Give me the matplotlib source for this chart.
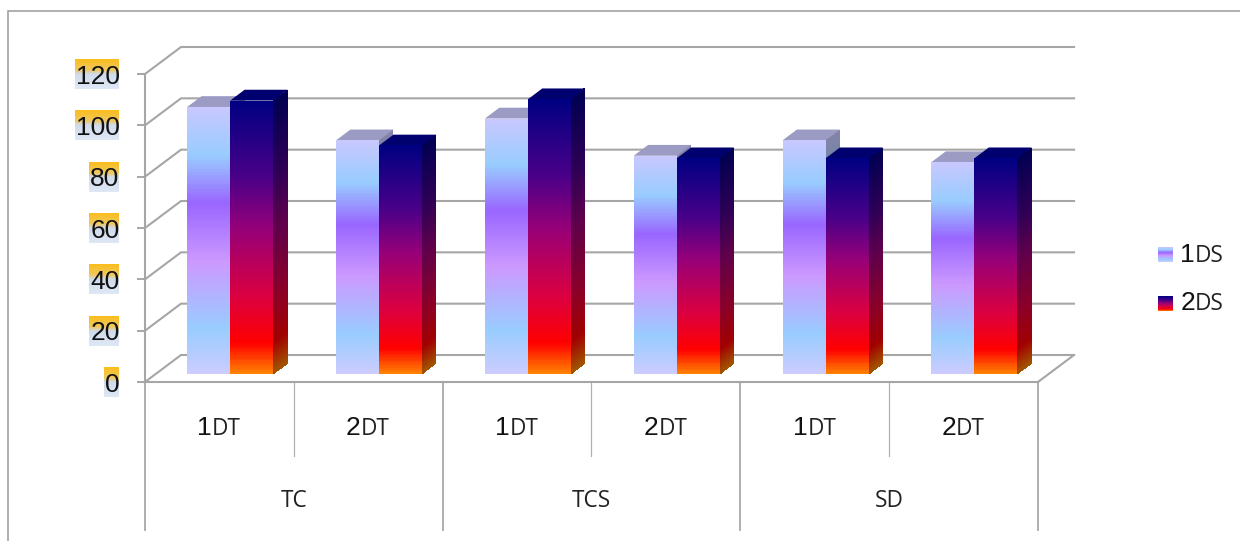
import numpy as np
import matplotlib
matplotlib.use("Agg")
import matplotlib.pyplot as plt
from matplotlib.colors import LinearSegmentedColormap
from matplotlib.transforms import blended_transform_factory

# Chart data
groups = ["TC", "TCS", "SD"]
durations = ["1DT", "2DT", "1DT", "2DT", "1DT", "2DT"]
series_names = ["1DS", "2DS"]
values_1ds = [104, 91, 99.5, 85, 91, 82.5]
values_2ds = [106.5, 89, 107, 84, 84, 84]
y_ticks = [0, 20, 40, 60, 80, 100, 120]

# Figure layout, in pixels
W, H = 1240, 541
PLOT_L, PLOT_R, PLOT_B, PLOT_T = 145, 1038, 382, 74
GRID = "#a6a6a6"
NUM_FONT = "Liberation Sans"
CAT_FONT = "Open Sans"
NUM_PT = 19.0
CAT_PT = 16.3

# Oblique projection of the 3D box
DEPTH_X = 36 / ((PLOT_R - PLOT_L) / 6)
DEPTH_Y = 27 / ((PLOT_B - PLOT_T) / 120)
BAR_FRONT, BAR_BACK = 0.30, 0.70
BAR_W = 43 / ((PLOT_R - PLOT_L) / 6)

light_stops = [(0.00, "#c8c8ff"), (0.18, "#99ccff"), (0.36, "#9966ff"),
               (0.58, "#cc99ff"), (0.83, "#99ccff"), (1.00, "#ccccff")]
dark_stops = [(0.00, "#000082"), (0.28, "#4a0088"), (0.47, "#960078"),
              (0.72, "#dc0040"), (0.89, "#ff0000"), (1.00, "#ff8200")]


def make_cmap(stops, factor=1.0):
    colors = [(p, tuple(factor * c for c in matplotlib.colors.to_rgb(col)))
              for p, col in stops]
    return LinearSegmentedColormap.from_list("ramp", colors, N=256)


light_front = make_cmap(light_stops)
light_side = make_cmap(light_stops, 0.66)
dark_front = make_cmap(dark_stops)
dark_side = make_cmap(dark_stops, 0.63)

fig = plt.figure(figsize=(W / 100, H / 100), dpi=100, facecolor="white")

# Pixel-space layer for the frame, label highlights and legend
page = fig.add_axes([0, 0, 1, 1], zorder=0)
page.set_xlim(0, W)
page.set_ylim(H, 0)
page.axis("off")

ax = fig.add_axes([PLOT_L / W, (H - PLOT_B) / H,
                   (PLOT_R - PLOT_L) / W, (PLOT_B - PLOT_T) / H], zorder=1)
ax.patch.set_visible(False)
ax.set_xlim(-0.5, 5.5)
ax.set_ylim(0, 120)

# Outer frame
page.plot([8, 8, W], [H, 10.5, 10.5], color="#9a9a9a", lw=1.1, solid_joinstyle="miter")


def gradient_rect(x0, x1, y0, y1, cmap):
    grad = np.linspace(0, 1, 64)[:, None]
    page.imshow(grad, extent=(x0, x1, y1, y0), cmap=cmap, aspect="auto",
                zorder=1, interpolation="bilinear")


# Highlight band behind the value labels
highlight = LinearSegmentedColormap.from_list(
    "band", [(0, "#fbbd1c"), (0.36, "#efc860"), (0.50, "#cfdaec"), (1, "#dfe8f5")])
band_width = {1: 15, 2: 30, 3: 44}
for v in y_ticks:
    yc = PLOT_B - v * (PLOT_B - PLOT_T) / 120
    gradient_rect(119 - band_width[len(str(v))], 119, yc - 15, yc + 15, highlight)
page.set_xlim(0, W)
page.set_ylim(H, 0)

# Value axis
ax.set_yticks(y_ticks)
ax.tick_params(axis="y", length=5.8, width=1.4, color=GRID, pad=12.5)
for lab in ax.get_yticklabels():
    lab.set_fontfamily(NUM_FONT)
    lab.set_fontsize(NUM_PT)
    lab.set_color("#111111")
ax.set_xticks([])
for side in ("top", "right"):
    ax.spines[side].set_visible(False)
for side in ("left", "bottom"):
    ax.spines[side].set_color(GRID)
    ax.spines[side].set_linewidth(1.5)

# Walls: gridlines along the side and back, then the floor edge
xl, xr = -0.5, 5.5
for v in y_ticks:
    ax.plot([xl, xl + DEPTH_X, xr + DEPTH_X], [v, v + DEPTH_Y, v + DEPTH_Y],
            color=GRID, lw=1.5, clip_on=False, zorder=1, solid_joinstyle="miter")
ax.plot([xr, xr + DEPTH_X], [0, DEPTH_Y], color=GRID, lw=1.5, clip_on=False, zorder=1)


def draw_bar(x_left, value, front_cmap, side_cmap, top_color, zorder):
    """Draw a box: side face, top face and gradient front face."""
    rows = 160
    t = np.linspace(1, 0, rows + 1)
    x0 = x_left + BAR_FRONT * DEPTH_X
    x1 = x0 + BAR_W
    dx = (BAR_BACK - BAR_FRONT) * DEPTH_X
    dy = (BAR_BACK - BAR_FRONT) * DEPTH_Y
    base = BAR_FRONT * DEPTH_Y
    y_front = base + value * t
    shade = ((1 - t[:-1]) + (1 - t[1:]))[:, None] / 2

    sx = np.column_stack([np.full(rows + 1, x1), np.full(rows + 1, x1 + dx)])
    sy = np.column_stack([y_front, y_front + dy])
    m = ax.pcolormesh(sx, sy, shade, cmap=side_cmap, vmin=0, vmax=1,
                      shading="flat", zorder=zorder, antialiased=False)
    m.set_clip_on(False)

    top = base + value
    ax.fill([x0, x1, x1 + dx, x0 + dx], [top, top, top + dy, top + dy],
            color=top_color, lw=0, clip_on=False, zorder=zorder)

    fx = np.column_stack([np.full(rows + 1, x0), np.full(rows + 1, x1)])
    fy = np.column_stack([y_front, y_front])
    m = ax.pcolormesh(fx, fy, shade, cmap=front_cmap, vmin=0, vmax=1,
                      shading="flat", zorder=zorder + 0.5, antialiased=False)
    m.set_clip_on(False)


for i in range(len(durations)):
    draw_bar(i - BAR_W, values_1ds[i], light_front, light_side, "#9b9bc4", 3 + i)
    draw_bar(i, values_2ds[i], dark_front, dark_side, "#00006e", 3.6 + i)

# Two-level category axis below the floor
to_page_y = blended_transform_factory(ax.transData, page.transData)
for k, b in enumerate(np.arange(-0.5, 6, 1)):
    is_group = k % 2 == 0
    ax.plot([b, b], [PLOT_B, 530 if is_group else 456],
            transform=to_page_y, clip_on=False,
            color="#a8a8a8" if is_group else "#b0b0b0",
            lw=1.3 if is_group else 0.9, zorder=1)


def two_part_label(xy, transform, text, offset_px):
    """Write a digit in the numeric face followed by letters in the category face."""
    ax.annotate(text[0], xy=xy, xycoords=transform,
                xytext=(offset_px * 0.72, 0), textcoords="offset points",
                ha="right", va="baseline", family=NUM_FONT, fontsize=NUM_PT,
                color="#111111", annotation_clip=False)
    ax.annotate(text[1:], xy=xy, xycoords=transform,
                xytext=(offset_px * 0.72, 0), textcoords="offset points",
                ha="left", va="baseline", family=CAT_FONT, fontsize=CAT_PT,
                color="#222222", annotation_clip=False)


for i, label in enumerate(durations):
    two_part_label((i, 435), to_page_y, label, -7.4)

for j, name in enumerate(groups):
    ax.text(2 * j + 0.5, 507, name, transform=to_page_y, ha="center", va="baseline",
            family=CAT_FONT, fontsize=CAT_PT, color="#222222")

# Legend
gradient_rect(1158, 1173, 247.5, 262, light_front)
gradient_rect(1158, 1173, 296, 311, dark_front)
page.set_xlim(0, W)
page.set_ylim(H, 0)
for name, base in zip(series_names, (262, 310)):
    two_part_label((1195, base), page.transData, name, 0)

fig.savefig("out.png", dpi=100, facecolor="white")
